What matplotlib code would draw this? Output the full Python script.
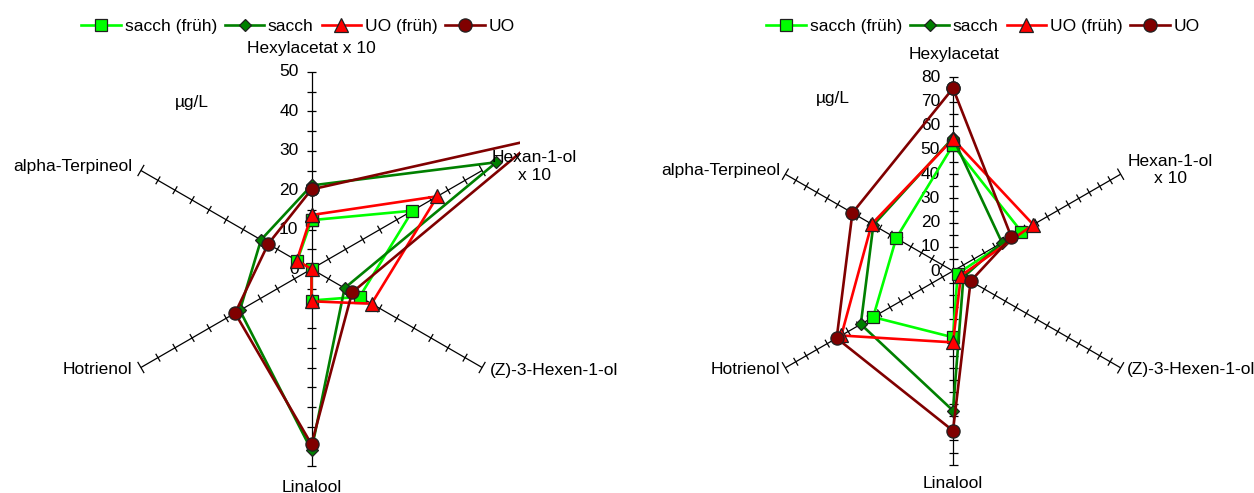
import numpy as np
import matplotlib
matplotlib.use("Agg")
import matplotlib.pyplot as plt
from matplotlib.collections import LineCollection

plt.rcParams['font.family'] = ['Liberation Sans', 'DejaVu Sans']
FS = 12.5

W, H = 1254, 493

series_names = ["sacch (früh)", "sacch", "UO (früh)", "UO"]

labels_left = ["Hexylacetat x 10", "Hexan-1-ol\nx 10", "(Z)-3-Hexen-1-ol",
               "Linalool", "Hotrienol", "alpha-Terpineol"]
labels_right = ["Hexylacetat", "Hexan-1-ol\nx 10", "(Z)-3-Hexen-1-ol",
                "Linalool", "Hotrienol", "alpha-Terpineol"]

# values in µg/L, order as labels
left_sacch_frueh = [12.4, 29.6, 14.1, 8.0, 0.0, 4.2]
left_sacch = [21.2, 54.2, 9.7, 46.0, 21.0, 14.8]
left_uo_frueh = [13.7, 36.9, 17.6, 8.2, 0.0, 4.3]
left_uo = [20.2, 66.0, 11.9, 44.5, 22.4, 12.7]

right_sacch_frueh = [52.0, 32.6, 2.2, 27.4, 38.1, 27.1]
right_sacch = [55.0, 23.4, 5.0, 57.7, 44.0, 38.0]
right_uo_frueh = [54.5, 38.3, 3.8, 29.5, 53.3, 38.8]
right_uo = [75.5, 27.9, 8.4, 66.0, 55.5, 48.0]

styles = [
    dict(color="#00FF00", marker="s", ms=9, mfc="#00FF00"),
    dict(color="#008000", marker="D", ms=6.2, mfc="#008000"),
    dict(color="#FF0000", marker="^", ms=10, mfc="#FF0000"),
    dict(color="#800000", marker="o", ms=9.5, mfc="#800000"),
]

angles = np.deg2rad(90 - 60 * np.arange(6))


def radar(fig, box, center, s, rmax, series, labels, offsets):
    x0, y0, x1, y1 = box
    cx, cy = center
    ax = fig.add_axes([x0 / W, 1 - y1 / H, (x1 - x0) / W, (y1 - y0) / H])
    ax.set_xlim((x0 - cx) / s, (x1 - cx) / s)
    ax.set_ylim((cy - y1) / s, (cy - y0) / s)
    ax.axis("off")

    # spokes and ticks
    segs = []
    for a in angles:
        d = np.array([np.cos(a), np.sin(a)])
        p = np.array([-np.sin(a), np.cos(a)])
        segs.append([(0, 0), tuple(rmax * d)])
        for r in np.arange(5, rmax + 0.1, 5):
            t = 4.5 / s
            if r == rmax and abs(np.cos(a)) > 0.1:
                t = 6.5 / s
            segs.append([tuple(r * d - t * p), tuple(r * d + t * p)])
    ax.add_collection(LineCollection(segs, colors="black", linewidths=0.9, zorder=1))

    for v in range(0, rmax + 1, 10):
        ax.annotate(str(v), xy=(0, v), xytext=(-13 * 0.72, 0), textcoords="offset points",
                    ha="right", va="center", fontsize=FS, zorder=0.5)

    handles = []
    for vals, st in zip(series, styles):
        v = np.array(vals + vals[:1])
        a = np.concatenate([angles, angles[:1]])
        h, = ax.plot(v * np.cos(a), v * np.sin(a), lw=1.9, mec="#202020", mew=0.9,
                     zorder=3, **st)
        handles.append(h)

    for a, lab, (ox, oy, ha) in zip(angles, labels, offsets):
        ax.annotate(lab, xy=(rmax * np.cos(a), rmax * np.sin(a)),
                    xytext=(ox * 0.72, oy * 0.72), textcoords="offset points",
                    ha=ha, va="center", multialignment="center", fontsize=FS,
                    annotation_clip=False)
    return ax, handles


fig = plt.figure(figsize=(W / 100, H / 100), dpi=100)

off_left = [(0, 23, "center"), (52, 4, "center"), (8, -2.5, "left"),
            (0, -21, "center"), (-9, -2.5, "right"), (-9, 3.5, "right")]
off_right = [(1, 23, "center"), (50, 4, "center"), (6, -2, "left"),
             (0, -18.5, "center"), (-5, -2, "right"), (-5, 4, "right")]

axl, hl = radar(fig, (100, 60, 520, 480), (311.5, 269), 3.94, 50,
                [left_sacch_frueh, left_sacch, left_uo_frueh, left_uo],
                labels_left, off_left)
axr, hr = radar(fig, (760, 60, 1150, 480), (953, 271), 2.42, 80,
                [right_sacch_frueh, right_sacch, right_uo_frueh, right_uo],
                labels_right, off_right)

fig.text(192 / W, 1 - 103 / H, "µg/L", ha="center", va="center", fontsize=FS)
fig.text(833 / W, 1 - 98 / H, "µg/L", ha="center", va="center", fontsize=FS)

for ax, hs, lx in [(axl, hl, 298), (axr, hr, 983)]:
    ax.legend(hs, series_names, loc="center", bbox_to_anchor=(lx / W, 1 - 26 / H),
              bbox_transform=fig.transFigure, ncol=4, frameon=False, fontsize=FS,
              handlelength=2.3, handletextpad=0.2, columnspacing=0.45, borderpad=0,
              numpoints=1)

fig.savefig("out.png", dpi=100)
